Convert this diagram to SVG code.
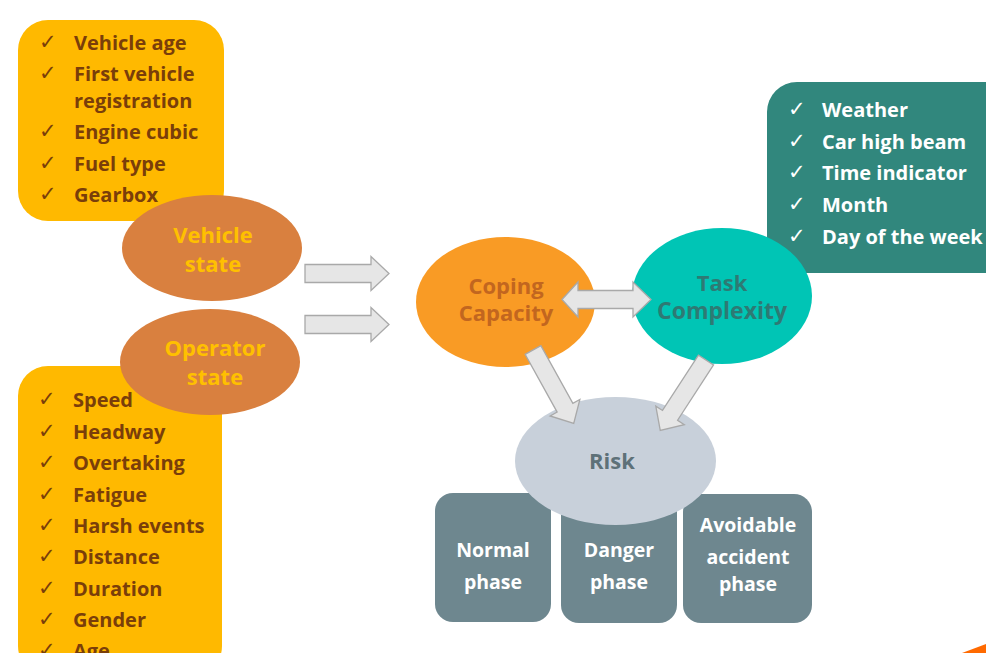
<svg xmlns="http://www.w3.org/2000/svg" width="986" height="653" viewBox="0 0 986 653">
  <defs>
    <style>
      text { font-family: "Open Sans", "Liberation Sans", sans-serif; font-weight: 700; }
      .item { font-size: 20px; fill: #7A3E0A; }
      .item-w { font-size: 20px; fill: #FFFFFF; }
      .tick { font-family: "DejaVu Sans", sans-serif; font-weight: 400; font-size: 21px; }
      .lbl { font-size: 22px; text-anchor: middle; }
      .phase { font-size: 19.5px; fill: #FFFFFF; text-anchor: middle; }
      .block { fill: #E6E6E6; stroke: #A9A9A9; stroke-width: 1.3; stroke-linejoin: miter; }
    </style>
    <!-- block arrow pointing along +x, length 84 -->
    <polygon id="blk" class="block" points="0,-9 66,-9 66,-17 84,0 66,17 66,9 0,9"/>
  </defs>

  <rect width="986" height="653" fill="#FFFFFF"/>

  <!-- vehicle attribute list -->
  <g id="vehicle-list">
    <rect x="18" y="20" width="206" height="201" rx="30" fill="#FFB900"/>
    <g class="item">
      <text class="tick" x="39" y="49">✓</text><text x="74" y="50">Vehicle age</text>
      <text class="tick" x="39" y="80">✓</text><text x="74" y="81">First vehicle</text>
      <text x="74" y="108">registration</text>
      <text class="tick" x="39" y="138">✓</text><text x="74" y="139">Engine cubic</text>
      <text class="tick" x="39" y="170">✓</text><text x="74" y="171">Fuel type</text>
      <text class="tick" x="39" y="201">✓</text><text x="74" y="202">Gearbox</text>
    </g>
  </g>

  <!-- operator attribute list -->
  <g id="operator-list">
    <rect x="18" y="366" width="204" height="310" rx="30" fill="#FFB900"/>
    <g class="item">
      <text class="tick" x="38" y="406">✓</text><text x="73" y="407">Speed</text>
      <text class="tick" x="38" y="438">✓</text><text x="73" y="439">Headway</text>
      <text class="tick" x="38" y="469">✓</text><text x="73" y="470">Overtaking</text>
      <text class="tick" x="38" y="501">✓</text><text x="73" y="502">Fatigue</text>
      <text class="tick" x="38" y="532">✓</text><text x="73" y="533">Harsh events</text>
      <text class="tick" x="38" y="563">✓</text><text x="73" y="564">Distance</text>
      <text class="tick" x="38" y="595">✓</text><text x="73" y="596">Duration</text>
      <text class="tick" x="38" y="626">✓</text><text x="73" y="627">Gender</text>
      <text class="tick" x="38" y="657">✓</text><text x="73" y="658">Age</text>
    </g>
  </g>

  <!-- environment attribute list -->
  <g id="environment-list">
    <rect x="767" y="82" width="260" height="191" rx="30" fill="#31877D"/>
    <g class="item-w">
      <text class="tick" x="788" y="116">✓</text><text x="822" y="117">Weather</text>
      <text class="tick" x="788" y="148">✓</text><text x="822" y="149">Car high beam</text>
      <text class="tick" x="788" y="179">✓</text><text x="822" y="180">Time indicator</text>
      <text class="tick" x="788" y="211">✓</text><text x="822" y="212">Month</text>
      <text class="tick" x="788" y="243">✓</text><text x="822" y="244">Day of the week</text>
    </g>
  </g>

  <g id="vehicle-state">
    <ellipse cx="212" cy="248" rx="90" ry="53" fill="#D9803F"/>
    <text class="lbl" x="213" y="243" fill="#FFC000">Vehicle</text>
    <text class="lbl" x="213" y="272" fill="#FFC000">state</text>
  </g>

  <g id="operator-state">
    <ellipse cx="210" cy="362" rx="90" ry="53" fill="#D9803F"/>
    <text class="lbl" x="215" y="356" fill="#FFC000">Operator</text>
    <text class="lbl" x="215" y="385" fill="#FFC000">state</text>
  </g>

  <g id="phase-normal">
    <rect x="435" y="493" width="116" height="129" rx="18" fill="#6E878F"/>
    <text class="phase" x="493" y="557">Normal</text>
    <text class="phase" x="493" y="589">phase</text>
  </g>

  <g id="phase-danger">
    <rect x="561" y="493" width="116" height="130" rx="18" fill="#6E878F"/>
    <text class="phase" x="619" y="557">Danger</text>
    <text class="phase" x="619" y="589">phase</text>
  </g>

  <g id="phase-avoidable">
    <rect x="683" y="494" width="129" height="129" rx="18" fill="#6E878F"/>
    <text class="phase" x="748" y="532">Avoidable</text>
    <text class="phase" x="748" y="564">accident</text>
    <text class="phase" x="748" y="591">phase</text>
  </g>

  <g id="risk">
    <ellipse cx="615.5" cy="461" rx="100.5" ry="64" fill="#C8D0DA"/>
    <text class="lbl" x="612" y="469" fill="#5E7178">Risk</text>
  </g>

  <g id="coping-capacity">
    <ellipse cx="505.5" cy="302" rx="89.5" ry="65" fill="#F99B25"/>
    <text class="lbl" x="506" y="294" fill="#C2661F">Coping</text>
    <text class="lbl" x="506" y="321" fill="#C2661F">Capacity</text>
  </g>

  <g id="task-complexity">
    <ellipse cx="722" cy="296" rx="90" ry="68" fill="#00C5B5"/>
    <text class="lbl" x="722" y="291" fill="#2E7A74">Task</text>
    <text class="lbl" x="722" y="319" fill="#2E7A74" style="font-size:23px">Complexity</text>
  </g>

  <!-- connectors -->
  <g id="connectors">
    <use href="#blk" transform="translate(305,273.5)"/>
    <use href="#blk" transform="translate(305,324.5)"/>
    <polygon class="block" points="562,299.5 578,282 578,290.5 633,290.5 633,282 651,299.5 633,317 633,308.5 578,308.5 578,317"/>
    <use href="#blk" transform="translate(533,350) rotate(61)"/>
    <use href="#blk" transform="translate(706,360) rotate(123)"/>
  </g>

  <polygon points="962,653 986,644 986,653" fill="#FF6A00"/>
</svg>
